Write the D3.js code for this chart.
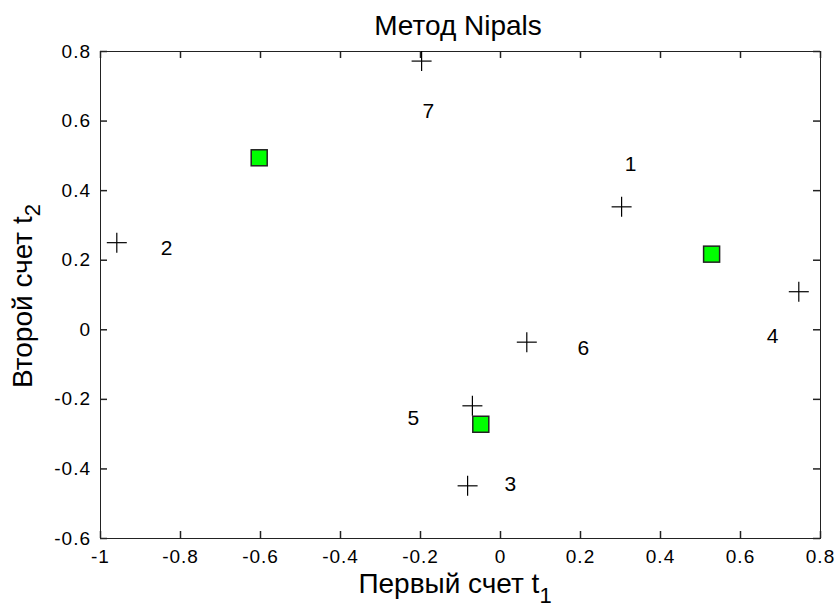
<!DOCTYPE html>
<html>
<head>
<meta charset="utf-8">
<script src="https://cdn.jsdelivr.net/npm/d3@7"></script>
<style>
  body { margin: 0; background: #fff; }
  text { font-family: "Liberation Sans", Arial, sans-serif; fill: #000; }
</style>
</head>
<body>
<div id="chart"></div>
<script>
const width = 837;
const height = 608;
const margin = { top: 51, right: 16, bottom: 70, left: 100 };

// observations: scores t1, t2
const obsNames = ["1", "2", "3", "4", "5", "6", "7"];
const t1 = [0.304, -0.958, -0.081, 0.747, -0.069, 0.067, -0.196];
const t2 = [0.352, 0.249, -0.450, 0.108, -0.220, -0.037, 0.771];

// where each number label sits (data coords)
const labelT1 = [0.312, -0.848, 0.011, 0.667, -0.231, 0.194, -0.194];
const labelT2 = [0.477, 0.236, -0.444, -0.018, -0.254, -0.052, 0.628];

// cluster centres (green squares)
const centerT1 = [-0.602, 0.529, -0.048];
const centerT2 = [0.493, 0.216, -0.273];

const xTicks = [-1, -0.8, -0.6, -0.4, -0.2, 0, 0.2, 0.4, 0.6, 0.8];
const yTicks = [-0.6, -0.4, -0.2, 0, 0.2, 0.4, 0.6, 0.8];

const svg = d3.select("#chart")
    .append("svg")
    .attr("width", width)
    .attr("height", height);

const x = d3.scaleLinear().domain([-1, 0.8]).range([margin.left, 820]);
const y = d3.scaleLinear().domain([-0.6, 0.8]).range([538, margin.top]);

// plain hyphen minus like the original
const fmt = d => String(+d.toFixed(1));
const tickLen = 7;

// bottom axis with labels
const gx = svg.append("g")
    .attr("transform", `translate(0,${y(-0.6)})`)
    .call(d3.axisBottom(x).tickValues(xTicks).tickFormat(fmt).tickSizeInner(-tickLen).tickSizeOuter(0).tickPadding(12));
// top axis, ticks only
const gxt = svg.append("g")
    .attr("transform", `translate(0,${y(0.8)})`)
    .call(d3.axisTop(x).tickValues(xTicks).tickFormat("").tickSizeInner(-tickLen).tickSizeOuter(0));
// left axis with labels
const gy = svg.append("g")
    .attr("transform", `translate(${x(-1)},0)`)
    .call(d3.axisLeft(y).tickValues(yTicks).tickFormat(fmt).tickSizeInner(-tickLen).tickSizeOuter(0).tickPadding(9));
// right axis, ticks only
const gyr = svg.append("g")
    .attr("transform", `translate(${x(0.8)},0)`)
    .call(d3.axisRight(y).tickValues(yTicks).tickFormat("").tickSizeInner(-tickLen).tickSizeOuter(0));

[gx, gxt, gy, gyr].forEach(g => {
    g.select(".domain").attr("stroke", "#222").attr("stroke-width", 1.5);
    g.selectAll(".tick line").attr("stroke", "#222").attr("stroke-width", 1.5);
    g.selectAll("text")
        .attr("font-size", "19px")
        .attr("letter-spacing", "1px")
        .attr("font-family", "Liberation Sans, Arial, sans-serif")
        .attr("fill", "#000");
});
svg.selectAll(".domain").attr("shape-rendering", "crispEdges");

// crosses
const half = 10;
const marks = svg.append("g").attr("stroke", "#000").attr("stroke-width", 1.2);
obsNames.forEach((n, i) => {
    const cx = x(t1[i]), cy = y(t2[i]);
    marks.append("line").attr("x1", cx - half).attr("x2", cx + half).attr("y1", cy).attr("y2", cy);
    marks.append("line").attr("x1", cx).attr("x2", cx).attr("y1", cy - half).attr("y2", cy + half);
});

// number labels
svg.append("g").selectAll("text")
    .data(obsNames)
    .join("text")
    .attr("x", (d, i) => x(labelT1[i]))
    .attr("y", (d, i) => y(labelT2[i]))
    .attr("dy", "0.35em")
    .attr("font-size", "21px")
    .text(d => d);

// green squares
const sq = 16;
svg.append("g").selectAll("rect")
    .data(centerT1)
    .join("rect")
    .attr("x", (d, i) => x(centerT1[i]) - sq / 2)
    .attr("y", (d, i) => y(centerT2[i]) - sq / 2)
    .attr("width", sq)
    .attr("height", sq)
    .attr("fill", "#00ff00")
    .attr("stroke", "#222")
    .attr("stroke-width", 1.5);

// title
svg.append("text")
    .attr("x", 458)
    .attr("y", 35)
    .attr("text-anchor", "middle")
    .attr("font-size", "28px")
    .text("Метод Nipals");

// x label
const xl = svg.append("text")
    .attr("x", 455)
    .attr("y", 593)
    .attr("text-anchor", "middle")
    .attr("font-size", "28px");
xl.append("tspan").text("Первый счет t");
xl.append("tspan").attr("dy", 10).attr("font-size", "22px").text("1");

// y label
const yl = svg.append("text")
    .attr("transform", `translate(32,296) rotate(-90)`)
    .attr("text-anchor", "middle")
    .attr("font-size", "28px");
yl.append("tspan").text("Второй счет t");
yl.append("tspan").attr("dy", 8).attr("font-size", "22px").text("2");
</script>
</body>
</html>
